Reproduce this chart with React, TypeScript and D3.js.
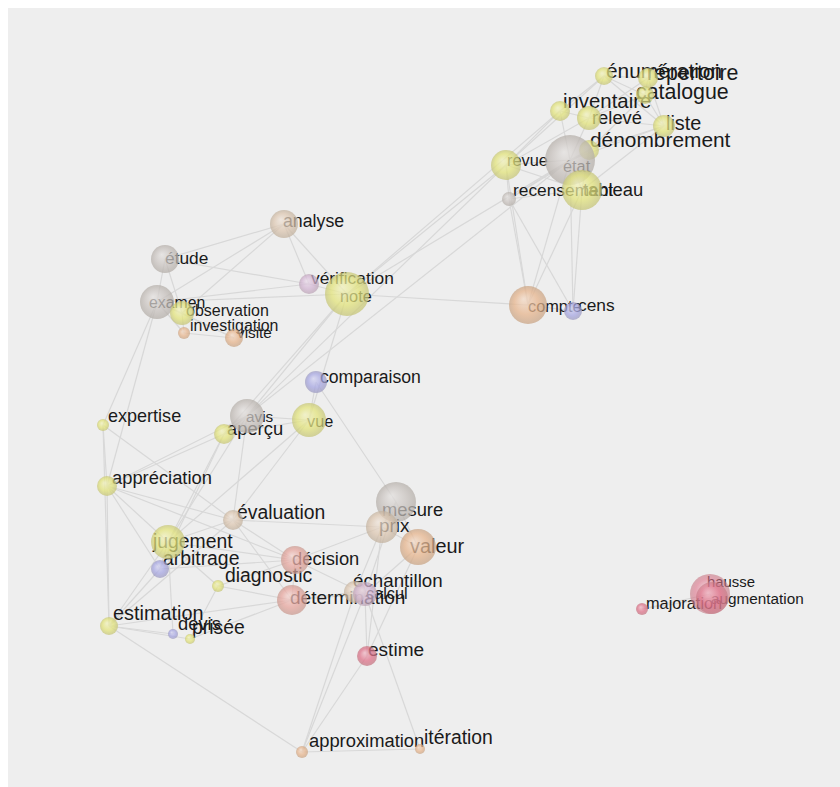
import React from 'react';
import * as d3 from 'd3';

const W = 832;
const H = 779;

// group -> base colour
const groupColors: Record<string, string> = {
  Y: '#e2e37a',
  G: '#c8c2be',
  B: '#dcc6b0',
  P: '#e6b48c',
  K: '#e6a49c',
  R: '#de7088',
  L: '#a6a6e2',
  M: '#d2b4d2',
};

// layout values of the projected 3-D graph: sphere centre, weight, group, depth, label anchor
type N = { name: string; x: number; y: number; w: number; g: string; z: number; lx: number; ly: number };
const nodes: N[] = [
  { name: 'énumération', x: 604, y: 76, w: 9, g: 'Y', z: 20.5, lx: 606, ly: 70 },
  { name: 'répertoire', x: 648, y: 78, w: 10, g: 'Y', z: 21, lx: 647, ly: 72 },
  { name: 'catalogue', x: 645, y: 95, w: 9, g: 'Y', z: 21, lx: 636, ly: 91 },
  { name: 'inventaire', x: 560, y: 111, w: 10, g: 'Y', z: 20, lx: 563, ly: 101 },
  { name: 'relevé', x: 589, y: 118, w: 12, g: 'Y', z: 18, lx: 592, ly: 117 },
  { name: 'liste', x: 664, y: 126, w: 11, g: 'Y', z: 19.5, lx: 666, ly: 123 },
  { name: 'dénombrement', x: 589, y: 150, w: 10, g: 'Y', z: 20.5, lx: 590, ly: 139 },
  { name: 'état', x: 570, y: 160, w: 25, g: 'G', z: 16, lx: 563, ly: 166 },
  { name: 'revue', x: 506, y: 165, w: 15, g: 'Y', z: 16, lx: 507, ly: 160 },
  { name: 'tableau', x: 582, y: 190, w: 20, g: 'Y', z: 18, lx: 583, ly: 189 },
  { name: 'recensement', x: 509, y: 199, w: 7, g: 'G', z: 17, lx: 513, ly: 190 },
  { name: 'compte', x: 528, y: 305, w: 19, g: 'P', z: 16, lx: 528, ly: 306 },
  { name: 'cens', x: 573, y: 311, w: 9, g: 'L', z: 17, lx: 578, ly: 305 },
  { name: 'analyse', x: 284, y: 224, w: 14, g: 'B', z: 17.4, lx: 283, ly: 221 },
  { name: 'étude', x: 165, y: 259, w: 14, g: 'G', z: 17, lx: 165, ly: 258 },
  { name: 'vérification', x: 309, y: 284, w: 10, g: 'M', z: 17, lx: 311, ly: 278 },
  { name: 'note', x: 347, y: 294, w: 22, g: 'Y', z: 16, lx: 340, ly: 296 },
  { name: 'examen', x: 157, y: 302, w: 17, g: 'G', z: 15.5, lx: 149, ly: 302 },
  { name: 'observation', x: 182, y: 313, w: 12, g: 'Y', z: 15.7, lx: 186, ly: 310 },
  { name: 'investigation', x: 184, y: 333, w: 6, g: 'P', z: 15.6, lx: 190, ly: 325 },
  { name: 'visite', x: 234, y: 338, w: 9, g: 'P', z: 15, lx: 237, ly: 332 },
  { name: 'comparaison', x: 316, y: 382, w: 11, g: 'L', z: 17.3, lx: 320, ly: 377 },
  { name: 'expertise', x: 103, y: 425, w: 6, g: 'Y', z: 17.7, lx: 108, ly: 416 },
  { name: 'avis', x: 247, y: 416, w: 17, g: 'G', z: 15, lx: 246, ly: 416 },
  { name: 'aperçu', x: 224, y: 434, w: 10, g: 'Y', z: 18, lx: 227, ly: 428 },
  { name: 'vue', x: 309, y: 420, w: 17, g: 'Y', z: 16, lx: 307, ly: 421 },
  { name: 'appréciation', x: 107, y: 486, w: 10, g: 'Y', z: 18, lx: 112, ly: 477 },
  { name: 'évaluation', x: 233, y: 520, w: 10, g: 'B', z: 19, lx: 237, ly: 512 },
  { name: 'mesure', x: 396, y: 502, w: 20, g: 'G', z: 18, lx: 382, ly: 509 },
  { name: 'prix', x: 382, y: 527, w: 16, g: 'B', z: 18.5, lx: 379, ly: 525 },
  { name: 'valeur', x: 418, y: 547, w: 18, g: 'P', z: 19.5, lx: 410, ly: 546 },
  { name: 'jugement', x: 168, y: 542, w: 17, g: 'Y', z: 19, lx: 153, ly: 541 },
  { name: 'arbitrage', x: 160, y: 569, w: 9, g: 'L', z: 19, lx: 163, ly: 558 },
  { name: 'diagnostic', x: 218, y: 586, w: 6, g: 'Y', z: 19, lx: 225, ly: 575 },
  { name: 'décision', x: 295, y: 560, w: 14, g: 'K', z: 18, lx: 292, ly: 558 },
  { name: 'échantillon', x: 355, y: 592, w: 11, g: 'B', z: 18.4, lx: 353, ly: 580 },
  { name: 'calcul', x: 365, y: 594, w: 12, g: 'M', z: 16, lx: 366, ly: 593 },
  { name: 'détermination', x: 292, y: 600, w: 15, g: 'K', z: 18.7, lx: 290, ly: 597 },
  { name: 'estimation', x: 109, y: 626, w: 9, g: 'Y', z: 19.5, lx: 113, ly: 613 },
  { name: 'devis', x: 173, y: 634, w: 5, g: 'L', z: 18, lx: 178, ly: 623 },
  { name: 'prisée', x: 190, y: 639, w: 5, g: 'Y', z: 19, lx: 192, ly: 627 },
  { name: 'estime', x: 367, y: 656, w: 10, g: 'R', z: 18.7, lx: 368, ly: 649 },
  { name: 'approximation', x: 302, y: 752, w: 6, g: 'P', z: 18, lx: 309, ly: 740 },
  { name: 'itération', x: 420, y: 749, w: 5, g: 'P', z: 19, lx: 424, ly: 737 },
  { name: 'hausse', x: 710, y: 594, w: 20, g: 'R', z: 14.6, lx: 707, ly: 582 },
  { name: 'augmentation', x: 712, y: 598, w: 16, g: 'R', z: 15, lx: 711, ly: 598 },
  { name: 'majoration', x: 642, y: 609, w: 6, g: 'R', z: 16, lx: 646, ly: 603 },
];

const edges: [string, string][] = [
  ['revue', 'inventaire'], ['revue', 'relevé'], ['revue', 'état'], ['revue', 'tableau'],
  ['revue', 'recensement'], ['revue', 'compte'], ['revue', 'énumération'],
  ['inventaire', 'relevé'], ['inventaire', 'énumération'], ['inventaire', 'état'],
  ['relevé', 'énumération'], ['relevé', 'répertoire'], ['relevé', 'catalogue'], ['relevé', 'liste'], ['relevé', 'état'],
  ['énumération', 'répertoire'], ['énumération', 'catalogue'], ['énumération', 'liste'],
  ['répertoire', 'catalogue'], ['répertoire', 'liste'], ['catalogue', 'liste'], ['catalogue', 'dénombrement'],
  ['liste', 'dénombrement'], ['liste', 'état'], ['liste', 'tableau'],
  ['dénombrement', 'état'], ['dénombrement', 'tableau'], ['dénombrement', 'recensement'],
  ['état', 'tableau'], ['état', 'recensement'], ['état', 'compte'], ['état', 'cens'],
  ['tableau', 'recensement'], ['tableau', 'compte'], ['tableau', 'cens'],
  ['recensement', 'compte'], ['recensement', 'cens'], ['compte', 'cens'],
  ['note', 'revue'], ['note', 'inventaire'], ['note', 'état'], ['avis', 'revue'], ['aperçu', 'état'],
  ['note', 'compte'], ['examen', 'note'],
  ['analyse', 'étude'], ['analyse', 'examen'], ['analyse', 'vérification'], ['analyse', 'note'], ['analyse', 'observation'],
  ['étude', 'examen'], ['étude', 'vérification'], ['étude', 'observation'],
  ['examen', 'observation'], ['examen', 'investigation'], ['examen', 'visite'], ['examen', 'expertise'], ['examen', 'appréciation'],
  ['observation', 'investigation'], ['observation', 'visite'], ['investigation', 'visite'],
  ['vérification', 'note'], ['vérification', 'examen'],
  ['note', 'vue'], ['note', 'aperçu'], ['note', 'avis'],
  ['comparaison', 'vue'], ['comparaison', 'mesure'],
  ['expertise', 'appréciation'], ['expertise', 'estimation'], ['expertise', 'évaluation'],
  ['appréciation', 'aperçu'], ['appréciation', 'avis'], ['appréciation', 'jugement'], ['appréciation', 'évaluation'],
  ['appréciation', 'estimation'], ['appréciation', 'arbitrage'], ['appréciation', 'décision'],
  ['avis', 'aperçu'], ['avis', 'vue'], ['avis', 'jugement'], ['avis', 'évaluation'],
  ['aperçu', 'vue'], ['aperçu', 'jugement'], ['aperçu', 'arbitrage'],
  ['vue', 'jugement'], ['vue', 'évaluation'],
  ['évaluation', 'jugement'], ['évaluation', 'décision'], ['évaluation', 'estimation'], ['évaluation', 'prix'], ['évaluation', 'détermination'],
  ['mesure', 'prix'], ['mesure', 'valeur'], ['prix', 'valeur'], ['prix', 'décision'], ['prix', 'échantillon'],
  ['prix', 'estime'], ['valeur', 'calcul'], ['valeur', 'estime'], ['mesure', 'calcul'],
  ['jugement', 'arbitrage'], ['jugement', 'décision'], ['jugement', 'estimation'], ['jugement', 'diagnostic'], ['jugement', 'devis'],
  ['arbitrage', 'estimation'], ['arbitrage', 'décision'],
  ['décision', 'détermination'], ['décision', 'calcul'], ['décision', 'diagnostic'],
  ['détermination', 'calcul'], ['détermination', 'échantillon'], ['détermination', 'estimation'], ['détermination', 'prisée'], ['détermination', 'diagnostic'],
  ['diagnostic', 'prisée'],
  ['estimation', 'devis'], ['estimation', 'prisée'], ['estimation', 'approximation'],
  ['échantillon', 'calcul'], ['calcul', 'estime'], ['calcul', 'approximation'], ['échantillon', 'approximation'], ['estime', 'approximation'],
  ['approximation', 'itération'], ['calcul', 'itération'],
  ['hausse', 'majoration'], ['hausse', 'augmentation'], ['augmentation', 'majoration'],
];

export default function App() {
  // layout coordinates are in page space; the svg sits at the 8px body offset
  const x = d3.scaleLinear().domain([8, 8 + W]).range([0, W]);
  const y = d3.scaleLinear().domain([8, 8 + H]).range([0, H]);
  const r = d3.scaleLinear().domain([0, 25]).range([0, 25]);
  const fs = d3.scaleLinear().domain([14, 22]).range([14.3, 22.4]);
  const byName = new Map(nodes.map((n) => [n.name, n]));
  const groups = Object.keys(groupColors);

  return (
    <svg
      width={W}
      height={H}
      style={{ position: 'absolute', left: 8, top: 8, display: 'block' }}
      fontFamily="'Liberation Sans', Arial, sans-serif"
    >
      <defs>
        {groups.map((g) => {
          const light = d3.interpolateRgb(groupColors[g], '#ffffff')(0.5);
          const dark = d3.interpolateRgb(groupColors[g], '#8a8478')(0.35);
          return (
            <radialGradient key={g} id={`sph-${g}`} cx="50%" cy="50%" r="52%" fx="38%" fy="34%">
              <stop offset="0%" stopColor={light} />
              <stop offset="60%" stopColor={groupColors[g]} />
              <stop offset="100%" stopColor={dark} />
            </radialGradient>
          );
        })}
      </defs>
      <rect width={W} height={H} fill="#eeeeee" />
      <g stroke="#d8d8d8" strokeWidth={1.2} fill="none">
        {edges.map(([s, t], i) => {
          const a = byName.get(s)!;
          const b = byName.get(t)!;
          return <line key={i} x1={x(a.x)} y1={y(a.y)} x2={x(b.x)} y2={y(b.y)} />;
        })}
      </g>
      <g fill="#1a1a1a">
        {nodes.map((n) => (
          <text key={n.name} x={x(n.lx)} y={y(n.ly) + fs(n.z) * 0.36} fontSize={fs(n.z)}>
            {n.name}
          </text>
        ))}
      </g>
      <g>
        {nodes.map((n) => (
          <circle
            key={n.name}
            cx={x(n.x)}
            cy={y(n.y)}
            r={r(n.w)}
            fill={`url(#sph-${n.g})`}
            fillOpacity={n.g === 'R' && n.w > 12 ? 0.6 : 0.74}
          />
        ))}
      </g>
    </svg>
  );
}
